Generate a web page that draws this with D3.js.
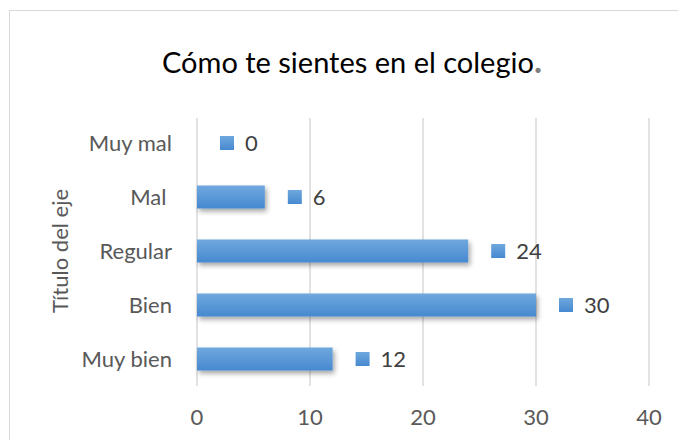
<!DOCTYPE html>
<html>
<head>
<meta charset="utf-8">
<script src="https://cdn.jsdelivr.net/npm/d3@7/dist/d3.min.js"></script>
<style>
  body { margin: 0; background: #fff; }
  svg text { font-family: Lato, "Open Sans", sans-serif; }
</style>
</head>
<body>
<svg id="chart" width="678" height="440"></svg>
<script>
const CATEGORIES = ["Muy mal", "Mal ", "Regular", "Bien", "Muy bien"];
const VALUES = [0, 6, 24, 30, 12];
const X_TICKS = [0, 10, 20, 30, 40];
const TITLE = "Cómo te sientes en el colegio";
const AXIS_TITLE = "Título del eje";

const svg = d3.select("#chart");
const W = 678, H = 440;
const plot = { left: 197, right: 649, top: 116, bottom: 386 };

svg.append("rect").attr("width", W).attr("height", H).attr("fill", "#fff");
// chart frame (right/bottom edges run off the picture)
svg.append("rect")
  .attr("x", 9.5).attr("y", 10.5)
  .attr("width", W + 20).attr("height", H + 20)
  .attr("fill", "none").attr("stroke", "#d9d9d9").attr("stroke-width", 1);

const defs = svg.append("defs");
const grad = defs.append("linearGradient").attr("id", "barGrad")
  .attr("x1", 0).attr("y1", 0).attr("x2", 0).attr("y2", 1);
grad.append("stop").attr("offset", "0%").attr("stop-color", "#6fa8de");
grad.append("stop").attr("offset", "100%").attr("stop-color", "#4689d0");

const shadow = defs.append("filter").attr("id", "shadow")
  .attr("x", "-10%").attr("y", "-30%").attr("width", "130%").attr("height", "190%");
shadow.append("feDropShadow").attr("dx", 2).attr("dy", 3).attr("stdDeviation", 2.5)
  .attr("flood-color", "#000").attr("flood-opacity", 0.35);

const x = d3.scaleLinear().domain([0, 40]).range([plot.left, plot.right]);
const y = d3.scaleBand().domain(CATEGORIES).range([plot.top, plot.bottom])
  .paddingInner(0.574).paddingOuter(0.287);

// gridlines
svg.append("g").selectAll("line")
  .data(X_TICKS).enter().append("line")
  .attr("x1", d => x(d)).attr("x2", d => x(d))
  .attr("y1", plot.top + 2).attr("y2", plot.bottom)
  .attr("stroke", "#d9d9d9").attr("stroke-width", 1.5);

// x tick labels
svg.append("g").selectAll("text")
  .data(X_TICKS).enter().append("text")
  .attr("x", d => x(d)).attr("y", 425)
  .attr("text-anchor", "middle")
  .attr("font-size", "22px").attr("fill", "#595959")
  .text(d => d);

// category labels
svg.append("g").selectAll("text")
  .data(CATEGORIES).enter().append("text")
  .attr("x", 172).attr("y", d => y(d) + y.bandwidth() / 2)
  .attr("dy", "0.36em")
  .attr("text-anchor", "end")
  .style("white-space", "pre")
  .attr("font-size", "22px").attr("fill", "#595959")
  .text(d => d);

// bars
const rows = CATEGORIES.map((c, i) => ({ category: c, value: VALUES[i] }));
svg.append("g").selectAll("rect")
  .data(rows.filter(d => d.value > 0)).enter().append("rect")
  .attr("x", x(0)).attr("y", d => y(d.category))
  .attr("width", d => x(d.value) - x(0))
  .attr("height", y.bandwidth())
  .attr("fill", "url(#barGrad)")
  .attr("filter", "url(#shadow)");

// data labels with legend key
const labels = svg.append("g").selectAll("g")
  .data(rows).enter().append("g")
  .attr("transform", d => `translate(${x(d.value)},${y(d.category) + y.bandwidth() / 2})`);
labels.append("rect")
  .attr("x", 23).attr("y", -7).attr("width", 14).attr("height", 14)
  .attr("fill", "url(#barGrad)");
labels.append("text")
  .attr("x", 48).attr("dy", "0.36em")
  .attr("font-size", "22px").attr("fill", "#404040")
  .text(d => d.value);

// title
const title = svg.append("text")
  .attr("x", 352).attr("y", 73)
  .attr("text-anchor", "middle")
  .attr("font-size", "29px").attr("fill", "#000");
title.append("tspan").text(TITLE);
title.append("tspan").attr("fill", "#7f7f7f").attr("font-weight", "bold").attr("font-size", "34px").text(".");

// axis title
svg.append("text")
  .attr("transform", "translate(68,251) rotate(-90)")
  .attr("text-anchor", "middle")
  .attr("font-size", "22px").attr("fill", "#595959")
  .text(AXIS_TITLE);
</script>
</body>
</html>
